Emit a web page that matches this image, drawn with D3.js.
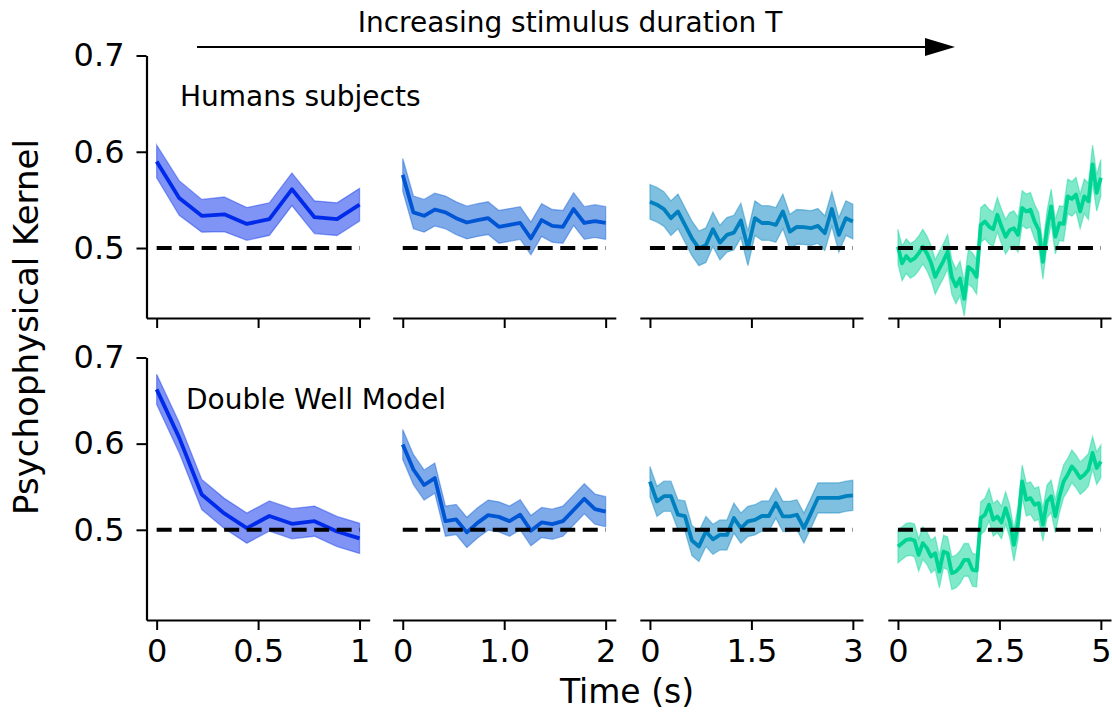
<!DOCTYPE html>
<html><head><meta charset="utf-8">
<script src="https://cdn.jsdelivr.net/npm/d3@7"></script>
<style>body{margin:0;background:#fff} svg{display:block} text{font-family:"DejaVu Sans",sans-serif}</style>
</head><body><svg id="c" width="1112" height="715"></svg>
<script>
// ---------- data ----------
const durations = [1, 2, 3, 5];
const xTickLabels = [["0","0.5","1"],["0","1.0","2"],["0","1.5","3"],["0","2.5","5"]];
const yTicks = [0.5, 0.6, 0.7];
const chance = 0.5;
const colors = ["#002aea", "#0055d4", "#0080bf", "#00d495"];

// Humans subjects (top row)
const humansT1 = [0.590,0.552,0.5335,0.535,0.525,0.530,0.561,0.532,0.530,0.545];
const humansSemT1 = [0.017,0.018,0.017,0.018,0.017,0.017,0.017,0.017,0.017,0.017];
const humansT2 = [0.576,0.537,0.5335,0.540,0.537,0.531,0.5265,0.529,0.531,0.522,0.524,0.526,0.510,0.529,0.523,0.522,0.5405,0.526,0.528,0.526];
const humansSemT2 = [0.017,0.017,0.017,0.017,0.017,0.017,0.017,0.017,0.017,0.017,0.017,0.017,0.017,0.017,0.017,0.017,0.017,0.017,0.017,0.017];
const humansT3 = [0.548,0.545,0.5405,0.531,0.538,0.524,0.510,0.4997,0.503,0.5195,0.5056,0.5136,0.516,0.5286,0.4997,0.531,0.526,0.526,0.524,0.538,0.517,0.522,0.5217,0.5206,0.523,0.5154,0.5405,0.5136,0.531,0.5275];
const humansSemT3 = [0.018,0.018,0.018,0.018,0.018,0.018,0.018,0.018,0.018,0.018,0.018,0.018,0.018,0.018,0.018,0.018,0.018,0.018,0.018,0.018,0.018,0.018,0.018,0.018,0.018,0.018,0.018,0.018,0.018,0.018];
const humansT5 = [0.5014,0.484,0.4916,0.4867,0.4892,0.4944,0.5014,0.4944,0.4846,0.470,0.4787,0.4867,0.4961,0.470,0.4602,0.4683,0.4473,0.4804,0.477,0.470,0.524,0.5275,0.5223,0.5195,0.5346,0.5223,0.5118,0.5188,0.5206,0.5136,0.5416,0.538,0.5398,0.5275,0.5188,0.4857,0.5206,0.5433,0.5118,0.5259,0.5251,0.5537,0.551,0.5555,0.538,0.5537,0.5485,0.5869,0.5573,0.573];
const humansSemT5 = [0.018,0.018,0.018,0.018,0.018,0.018,0.018,0.018,0.018,0.018,0.018,0.018,0.018,0.018,0.018,0.018,0.018,0.018,0.018,0.018,0.018,0.018,0.018,0.018,0.018,0.018,0.018,0.018,0.018,0.018,0.018,0.018,0.018,0.018,0.018,0.018,0.018,0.018,0.018,0.018,0.018,0.018,0.018,0.018,0.018,0.018,0.019,0.02,0.019,0.019];

// Double Well Model (bottom row)
const modelT1 = [0.663,0.607,0.541,0.519,0.502,0.516,0.507,0.510,0.498,0.490];
const modelSemT1 = [0.0175,0.0175,0.0175,0.0175,0.0175,0.0175,0.0175,0.0175,0.0175,0.0175];
const modelT2 = [0.599,0.570,0.552,0.560,0.510,0.512,0.497,0.508,0.517,0.515,0.510,0.5175,0.499,0.5085,0.5065,0.510,0.523,0.536,0.524,0.521];
const modelSemT2 = [0.0175,0.0175,0.0175,0.0175,0.0175,0.0175,0.0175,0.0175,0.0175,0.0175,0.0175,0.0175,0.0175,0.0175,0.0175,0.0175,0.0175,0.0175,0.0175,0.0175];
const modelT3 = [0.556,0.533,0.539,0.539,0.5175,0.516,0.4876,0.4807,0.498,0.489,0.494,0.494,0.5136,0.502,0.5097,0.5116,0.516,0.516,0.531,0.5155,0.5155,0.5175,0.502,0.519,0.537,0.537,0.537,0.537,0.539,0.540];
const modelSemT3 = [0.0175,0.0175,0.0175,0.0175,0.0175,0.0175,0.0175,0.0175,0.0175,0.0175,0.0175,0.0175,0.0175,0.0175,0.0175,0.0175,0.0175,0.0175,0.0175,0.0175,0.0175,0.0175,0.0175,0.0175,0.0175,0.0175,0.0175,0.0175,0.0175,0.0175];
const modelT5 = [0.4807,0.4845,0.4884,0.4892,0.4876,0.4709,0.4845,0.4787,0.4689,0.4728,0.4516,0.4748,0.4728,0.4496,0.4516,0.4566,0.4651,0.4651,0.4535,0.4527,0.5136,0.5175,0.5291,0.5116,0.5155,0.5085,0.5252,0.5097,0.4825,0.5078,0.5562,0.5349,0.5368,0.5291,0.531,0.5059,0.5329,0.5388,0.5155,0.5388,0.5562,0.564,0.5736,0.5678,0.5601,0.564,0.5697,0.5892,0.5717,0.5794];
const modelSemT5 = [0.019,0.019,0.019,0.019,0.019,0.019,0.019,0.019,0.019,0.019,0.019,0.019,0.019,0.019,0.019,0.019,0.019,0.019,0.019,0.019,0.019,0.019,0.019,0.019,0.019,0.019,0.019,0.019,0.019,0.019,0.019,0.019,0.019,0.019,0.019,0.019,0.019,0.019,0.019,0.019,0.019,0.019,0.019,0.019,0.019,0.019,0.019,0.019,0.019,0.019];

// ---------- layout ----------
const svg = d3.select("#c");
const FONT = '"DejaVu Sans", sans-serif';
const panelLeft = [146.5, 392.6, 639.8, 887.8];
const panelW = 223.2;
const rows = [
  {means:[humansT1,humansT2,humansT3,humansT5], sems:[humansSemT1,humansSemT2,humansSemT3,humansSemT5],
   domain:[0.4273,0.7], range:[318,55.5], labels:false, note:"Humans subjects", nx:180, ny:106},
  {means:[modelT1,modelT2,modelT3,modelT5], sems:[modelSemT1,modelSemT2,modelSemT3,modelSemT5],
   domain:[0.3953,0.7], range:[620,357.5], labels:true, note:"Double Well Model", nx:186, ny:409}
];

function styleAxis(g){
  g.attr("font-family", FONT).attr("font-size", 32);
  g.select(".domain").attr("stroke", "#000").attr("stroke-width", 2.2);
  g.selectAll(".tick line").attr("stroke", "#000").attr("stroke-width", 2);
  g.selectAll(".tick text").attr("fill", "#000");
}

rows.forEach(row => {
  const y = d3.scaleLinear().domain(row.domain).range(row.range);
  durations.forEach((T, p) => {
    const L = panelLeft[p];
    const x = d3.scaleLinear().domain([-0.05*T, 1.05*T]).range([L, L+panelW]);
    const m = row.means[p], s = row.sems[p], n = m.length;
    const pts = m.map((v,i) => ({t: i*T/(n-1), m: v, s: s[i]}));
    const g = svg.append("g");
    g.append("path").datum(pts)
      .attr("d", d3.area().x(d=>x(d.t)).y0(d=>y(d.m-d.s)).y1(d=>y(d.m+d.s)))
      .attr("fill", colors[p]).attr("fill-opacity", 0.5)
      .attr("stroke", colors[p]).attr("stroke-opacity", 0.4).attr("stroke-width", 1.3);
    g.append("path").datum(pts)
      .attr("d", d3.line().x(d=>x(d.t)).y(d=>y(d.m)))
      .attr("fill", "none").attr("stroke", colors[p]).attr("stroke-width", 3.8)
      .attr("stroke-linejoin", "round");
    g.append("line")
      .attr("x1", x(0)).attr("x2", x(T)).attr("y1", y(chance)).attr("y2", y(chance))
      .attr("stroke", "#000").attr("stroke-width", 4).attr("stroke-dasharray", "15 7.5");
    const ax = svg.append("g").attr("transform", `translate(0,${row.range[0]})`)
      .call(d3.axisBottom(x).tickValues([0, T/2, T]).tickSize(10).tickSizeOuter(0).tickPadding(9)
        .tickFormat((d,i) => row.labels ? xTickLabels[p][i] : ""));
    styleAxis(ax);
    if (p === 0) {
      const ay = svg.append("g").attr("transform", `translate(${L},0)`)
        .call(d3.axisLeft(y).tickValues(yTicks).tickFormat(d3.format(".1f")).tickSize(10).tickSizeOuter(0).tickPadding(12));
      styleAxis(ay);
    }
  });
  svg.append("text").attr("x", row.nx).attr("y", row.ny).attr("font-size", 28)
    .attr("font-family", FONT).text(row.note);
});

// labels
svg.append("text").attr("transform", "translate(38,327) rotate(-90)")
  .attr("text-anchor", "middle").attr("font-size", 34).attr("font-family", FONT)
  .text("Psychophysical Kernel");
svg.append("text").attr("x", 627).attr("y", 703).attr("text-anchor", "middle")
  .attr("font-size", 33).attr("font-family", FONT).text("Time (s)");

// arrow and title
svg.append("text").attr("x", 570).attr("y", 32).attr("text-anchor", "middle")
  .attr("font-size", 28).attr("font-family", FONT).text("Increasing stimulus duration T");
svg.append("line").attr("x1", 197).attr("x2", 930).attr("y1", 47).attr("y2", 47)
  .attr("stroke", "#000").attr("stroke-width", 1.8);
svg.append("path").attr("d", "M955,47 L925,38 L925,56 Z").attr("fill", "#000");
</script></body></html>
